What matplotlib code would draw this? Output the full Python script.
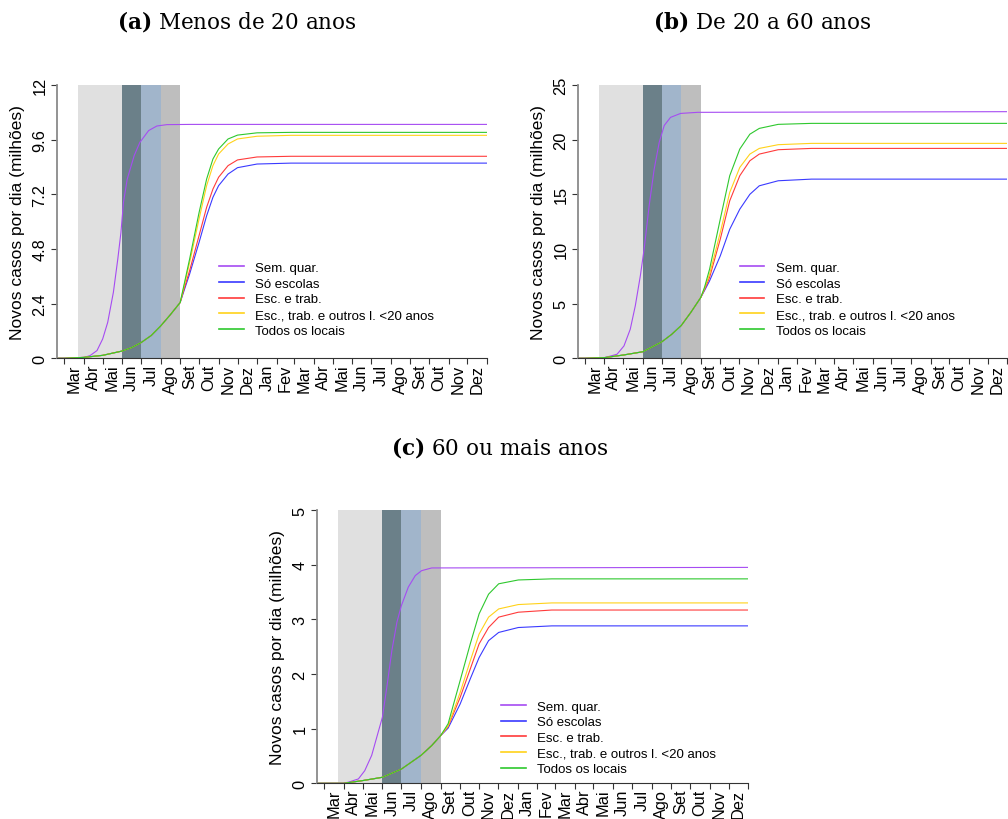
import matplotlib
matplotlib.use("Agg")
from matplotlib import pyplot as plt
import numpy as np

plt.rcParams['font.family'] = ['Liberation Sans', 'DejaVu Sans']
plt.rcParams['mathtext.fontset'] = 'dejavuserif'

# days counted from 1 March of year one
month_len = [31, 30, 31, 30, 31, 31, 30, 31, 30, 31, 31, 28,
             31, 30, 31, 30, 31, 31, 30, 31, 30, 31]
month_lab = ["Mar", "Abr", "Mai", "Jun", "Jul", "Ago", "Set", "Out", "Nov", "Dez",
             "Jan", "Fev", "Mar", "Abr", "Mai", "Jun", "Jul", "Ago", "Set", "Out", "Nov", "Dez"]

# quarantine phases (start day, end day)
phase_start = [22, 92, 122, 153]
phase_end = [92, 122, 153, 184]
phase_col = ["#e0e0e0", "#6b8089", "#a1b5cb", "#bebebe"]

names = ["Sem. quar.", "Só escolas", "Esc. e trab.",
         "Esc., trab. e outros l. <20 anos", "Todos os locais"]
colors = ["#a64cf2", "#3a3aff", "#ff3b3b", "#ffd21a", "#2ec82e"]

# ---- (a) Menos de 20 anos
a_sq_days = [-11, 25, 31, 41, 52, 61, 69, 78, 85, 90, 94, 100, 111, 120, 134, 147, 163, 200, 671]
a_sq = [0, 0, 0.03, 0.12, 0.34, 0.85, 1.58, 2.9, 4.36, 5.53, 6.85, 7.87, 8.9, 9.48, 10.0, 10.2, 10.26, 10.27, 10.27]
a_pre_days = [-11, 0, 31, 61, 92, 107, 122, 138, 153, 168, 184]
a_pre = [0, 0, 0.04, 0.13, 0.32, 0.47, 0.69, 1.0, 1.42, 1.9, 2.45]
a_post_days = [191, 199, 214, 226, 236, 245, 260, 275, 306, 360, 671]
a_esc = [3.04, 3.7, 5.09, 6.26, 7.07, 7.58, 8.09, 8.37, 8.53, 8.57, 8.57]
a_trab = [3.12, 3.85, 5.39, 6.63, 7.43, 7.95, 8.46, 8.71, 8.84, 8.87, 8.87]
a_outros = [3.26, 4.2, 6.12, 7.58, 8.46, 8.97, 9.41, 9.63, 9.75, 9.79, 9.79]
a_todos = [3.34, 4.36, 6.4, 7.87, 8.75, 9.19, 9.63, 9.8, 9.9, 9.92, 9.92]

# ---- (b) De 20 a 60 anos
b_sq_days = [-11, 20, 31, 51, 62, 72, 80, 88, 94, 102, 110, 118, 126, 136, 152, 179, 671]
b_sq = [0, 0, 0.06, 0.37, 1.13, 2.66, 4.8, 7.54, 9.98, 13.95, 17.3, 19.75, 21.3, 22.04, 22.4, 22.5, 22.56]
b_pre_days = [-11, 0, 31, 61, 92, 122, 138, 153, 168, 184]
b_pre = [0, 0, 0.06, 0.3, 0.6, 1.5, 2.2, 3.0, 4.18, 5.56]
b_post_days = [190, 198, 215, 230, 246, 262, 277, 307, 360, 671]
b_esc = [6.2, 7.08, 9.37, 11.8, 13.64, 15.0, 15.78, 16.24, 16.39, 16.39]
b_trab = [6.3, 7.39, 10.9, 14.4, 16.7, 18.07, 18.68, 19.08, 19.2, 19.2]
b_outros = [6.4, 7.69, 11.5, 15.17, 17.46, 18.68, 19.2, 19.54, 19.66, 19.66]
b_todos = [6.5, 8.15, 12.73, 16.7, 19.14, 20.5, 21.03, 21.4, 21.49, 21.49]

# ---- (c) 60 ou mais anos
c_sq_days = [-11, 30, 38, 54, 64, 75, 83, 92, 99, 107, 115, 122, 133, 144, 154, 170, 671]
c_sq = [0, 0, 0.02, 0.08, 0.23, 0.51, 0.84, 1.21, 1.76, 2.43, 2.95, 3.25, 3.59, 3.8, 3.89, 3.94, 3.95]
c_pre_days = [-11, 0, 31, 61, 92, 122, 153, 170, 184]
c_pre = [0, 0, 0.0, 0.05, 0.11, 0.26, 0.51, 0.69, 0.87]
c_post_days = [196, 215, 231, 245, 260, 276, 307, 360, 671]
c_esc = [1.01, 1.45, 1.91, 2.3, 2.61, 2.76, 2.85, 2.88, 2.88]
c_trab = [1.04, 1.57, 2.09, 2.55, 2.85, 3.04, 3.13, 3.17, 3.17]
c_outros = [1.05, 1.66, 2.24, 2.73, 3.04, 3.19, 3.27, 3.3, 3.3]
c_todos = [1.09, 1.88, 2.55, 3.1, 3.46, 3.65, 3.72, 3.74, 3.74]

month_edges = np.concatenate([[0], np.cumsum(month_len)])
month_mids = (month_edges[:-1] + month_edges[1:]) / 2


def panel(rect, title, title_xy, sq_d, sq, pre_d, pre, post_d, posts, ymax, yticks, yticklab, leg_xy):
    ax = fig.add_axes(rect)
    for s, e, c in zip(phase_start, phase_end, phase_col):
        ax.axvspan(s, e, color=c, lw=0, zorder=0)
    ax.plot(sq_d, sq, color=colors[0], lw=0.8, label=names[0])
    for k, ys in enumerate(posts):
        ax.plot(pre_d + post_d, pre + ys, color=colors[k + 1], lw=0.8, label=names[k + 1])
    ax.set_xlim(-11.5, 671)
    ax.set_ylim(0, ymax)
    for sp in ["top", "right"]:
        ax.spines[sp].set_visible(False)
    ax.spines["left"].set_color("#8a8a8a")
    ax.spines["left"].set_linewidth(1.3)
    ax.spines["bottom"].set_color("#333333")
    ax.set_xticks(month_edges)
    ax.set_xticklabels([])
    ax.set_xticks(month_mids, minor=True)
    ax.set_xticklabels(month_lab, minor=True, rotation=90, fontsize=11.8)
    ax.tick_params(axis="x", which="major", length=4.3, width=0.8, color="#333333")
    ax.tick_params(axis="x", which="minor", length=0, pad=4)
    ax.set_yticks(yticks)
    ax.set_yticklabels(yticklab, rotation=90, va="center", fontsize=11.8)
    ax.tick_params(axis="y", length=4.3, width=0.8, color="#333333", pad=2.5)
    ax.text(-39 / 430, 0.5, "Novos casos por dia (milhões)", transform=ax.transAxes,
            rotation=90, ha="center", va="center", fontsize=12.5)
    leg = ax.legend(loc="upper left", bbox_to_anchor=leg_xy, frameon=False, fontsize=9.5,
                    borderpad=0, borderaxespad=0, handlelength=1.85, handletextpad=0.9,
                    labelspacing=0.26)
    for ln in leg.get_lines():
        ln.set_linewidth(1.2)
    fig.text(title_xy[0], title_xy[1], title, ha="center", va="center",
             fontsize=15.5, family="DejaVu Serif")
    return ax


fig = plt.figure(figsize=(10.08, 8.2), dpi=100)

panel([57 / 1008, 1 - 359.3 / 820, 430 / 1008, 273.3 / 820],
      r"$\mathbf{(a)}$ Menos de 20 anos", (237 / 1008, 1 - 22 / 820),
      a_sq_days, a_sq, a_pre_days, a_pre, a_post_days,
      [a_esc, a_trab, a_outros, a_todos],
      12, [0, 2.4, 4.8, 7.2, 9.6, 12], ["0", "2.4", "4.8", "7.2", "9.6", "12"], (0.377, 0.353))

panel([577.7 / 1008, 1 - 359.3 / 820, 429.6 / 1008, 273.3 / 820],
      r"$\mathbf{(b)}$ De 20 a 60 anos", (762 / 1008, 1 - 22 / 820),
      b_sq_days, b_sq, b_pre_days, b_pre, b_post_days,
      [b_esc, b_trab, b_outros, b_todos],
      25, [0, 5, 10, 15, 20, 25], ["0", "5", "10", "15", "20", "25"], (0.378, 0.353))

panel([317 / 1008, 1 - 784.3 / 820, 431.3 / 1008, 273.3 / 820],
      r"$\mathbf{(c)}$ 60 ou mais anos", (500 / 1008, 1 - 448 / 820),
      c_sq_days, c_sq, c_pre_days, c_pre, c_post_days,
      [c_esc, c_trab, c_outros, c_todos],
      5, [0, 1, 2, 3, 4, 5], ["0", "1", "2", "3", "4", "5"], (0.427, 0.303))

fig.savefig("out.png", dpi=100)
